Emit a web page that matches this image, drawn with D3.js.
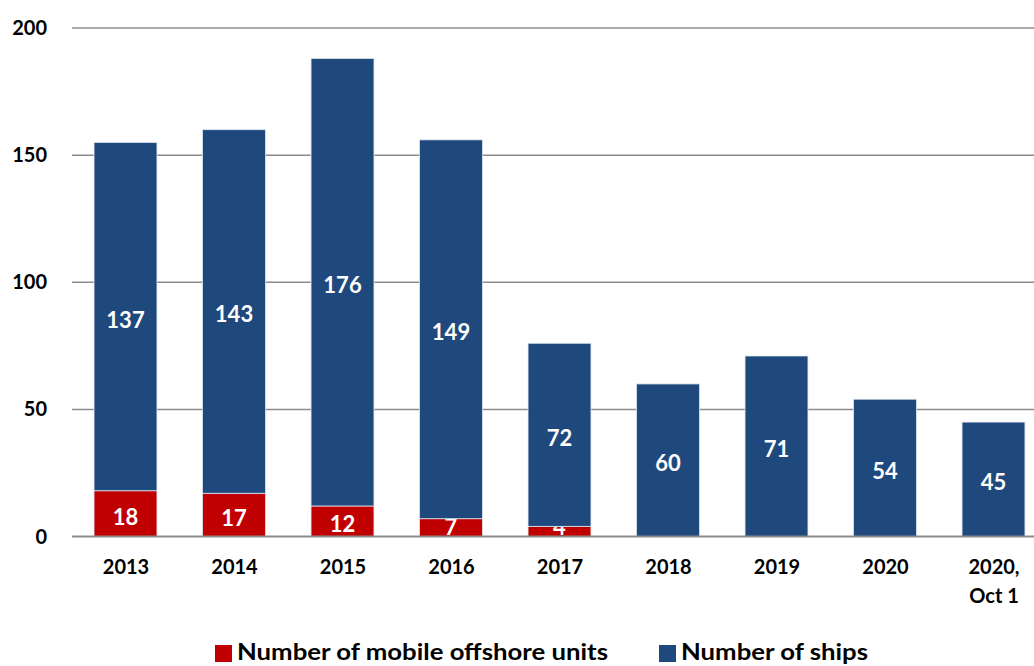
<!DOCTYPE html>
<html>
<head>
<meta charset="utf-8">
<script src="https://cdn.jsdelivr.net/npm/d3@7"></script>
<style>
html,body{margin:0;padding:0;background:#fff;}
svg{display:block;font-family:Lato, "Open Sans", sans-serif;font-weight:700;}
</style>
</head>
<body>
<svg id="chart" width="1034" height="666"></svg>
<script>
const categories = ["2013","2014","2015","2016","2017","2018","2019","2020","2020,\nOct 1"];
const offshoreUnits = [18,17,12,7,4,0,0,0,0];
const ships = [137,143,176,149,72,60,71,54,45];
const yTicks = [0,50,100,150,200];
const seriesNames = ["Number of mobile offshore units","Number of ships"];
const colors = ["#C00000","#1F497D"];

const svg = d3.select("#chart");
const W = 1034, H = 666;
const plotLeft = 71.25, plotTop = 28, plotBottom = 536.5;

const x = d3.scaleBand().domain(categories).range([plotLeft, plotLeft + 9*108.5]).paddingInner(0.42).paddingOuter(0.21);
const y = d3.scaleLinear().domain([0,200]).range([plotBottom, plotTop]);

// gridlines
const grid = svg.append("g");
grid.selectAll("line").data(yTicks.filter(d=>d>0)).join("line")
  .attr("x1", 72).attr("x2", W)
  .attr("y1", d=>y(d)).attr("y2", d=>y(d))
  .attr("stroke", "#8c8c8c").attr("stroke-width", 1.5);

// y labels
svg.append("g").selectAll("text").data(yTicks).join("text")
  .attr("x", 47).attr("y", d=>y(d)+7)
  .attr("text-anchor","end").attr("font-size",20).attr("fill","#000")
  .text(d=>d);

// stacked data
const rows = categories.map((c,i)=>({cat:c, u:offshoreUnits[i], s:ships[i]}));
const stack = d3.stack().keys(["u","s"])(rows);

stack.forEach((layer, li) => {
  const g = svg.append("g");
  g.selectAll("rect").data(layer).join("rect")
    .attr("x", d=>x(d.data.cat))
    .attr("width", x.bandwidth())
    .attr("y", d=>y(d[1]))
    .attr("height", d=>y(d[0])-y(d[1]))
    .attr("fill", colors[li])
    .attr("stroke", "#dfe6f0").attr("stroke-width", 0.8)
    .style("display", d=>(d[1]-d[0])>0?null:"none");
  g.selectAll("text").data(layer.filter(d=>(d[1]-d[0])>0)).join("text")
    .attr("x", d=>x(d.data.cat)+x.bandwidth()/2)
    .attr("y", d=>{
      const mid = y((d[0]+d[1])/2) + 3;
      return Math.min(mid, plotBottom-10) + 8;
    })
    .attr("text-anchor","middle").attr("font-size",22).attr("fill","#fff")
    .text(d=>d[1]-d[0]);
});

// zero axis
svg.append("line").attr("x1",72).attr("x2",W).attr("y1",y(0)).attr("y2",y(0))
  .attr("stroke","#8c8c8c").attr("stroke-width",2.2);

// x labels
const xl = svg.append("g").selectAll("text").data(categories).join("text")
  .attr("x", d=>x(d)+x.bandwidth()/2+0.5)
  .attr("y", 574)
  .attr("text-anchor","middle").attr("font-size",20).attr("fill","#000");
xl.each(function(d){
  const parts = d.split("\n");
  const t = d3.select(this);
  parts.forEach((p,i)=>{
    t.append("tspan").attr("x", x(d)+x.bandwidth()/2+0.5).attr("dy", i===0?0:29).text(p);
  });
});

// legend
const leg = svg.append("g");
const legItems = [
  {name:seriesNames[0], color:colors[0], sx:215, tx:237, w:371},
  {name:seriesNames[1], color:colors[1], sx:659, tx:681, w:187}
];
legItems.forEach(it=>{
  leg.append("rect").attr("x",it.sx).attr("y",645).attr("width",17).attr("height",17).attr("fill",it.color);
  leg.append("text").attr("x",it.tx).attr("y",660).attr("font-size",23).attr("fill","#000")
    .attr("textLength", it.w).attr("lengthAdjust","spacingAndGlyphs").text(it.name);
});
</script>
</body>
</html>
